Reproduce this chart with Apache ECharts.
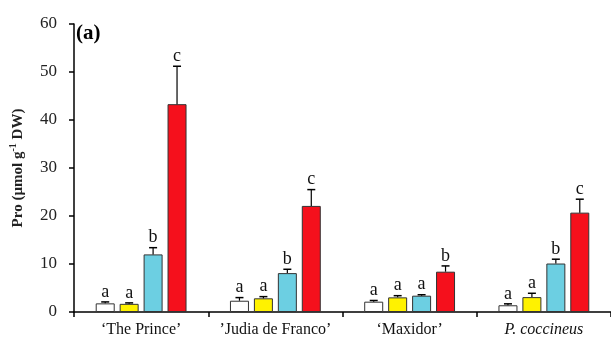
<!DOCTYPE html>
<html><head><meta charset="utf-8">
<script src="https://cdn.jsdelivr.net/npm/echarts@6/dist/echarts.min.js"></script>
<style>html,body{margin:0;padding:0;background:#fff}#c{width:611px;height:341px}</style>
</head><body><div id="c"></div>
<script>
const categories = ['\u2018The Prince\u2019', '\u2019Judia de Franco\u2019', '\u2018Maxidor\u2019', 'P. coccineus'];
const seriesNames = ['T1', 'T2', 'T3', 'T4'];
const values = [
  [1.8, 2.35, 2.15, 1.4],
  [1.7, 2.85, 3.05, 3.1],
  [12.0, 8.1, 3.4, 10.1],
  [43.3, 22.1, 8.4, 20.7]
];
const errTops = [
  [2.1, 3.0, 2.4, 1.7],
  [1.9, 3.2, 3.4, 3.9],
  [13.4, 8.9, 3.6, 11.0],
  [51.2, 25.5, 9.6, 23.5]
];
const letters = [
  ['a', 'a', 'a', 'a'],
  ['a', 'a', 'a', 'a'],
  ['b', 'b', 'a', 'b'],
  ['c', 'c', 'b', 'c']
];
const yTicks = [0, 10, 20, 30, 40, 50, 60];
const colors = ['#ffffff', '#fff200', '#6ccfe2', '#f5101c'];

const BW = 19, GAP = 0.26;
const serif = '"Liberation Serif", "Times New Roman", serif';
const chart = echarts.init(document.getElementById('c'));

const bars = values.map((v, i) => ({
  type: 'bar', name: seriesNames[i], data: v, barWidth: BW, barGap: (GAP * 100) + '%',
  itemStyle: { color: colors[i], borderColor: '#333', borderWidth: 1 },
  z: 2
}));
const errs = values.map((v, i) => ({
  type: 'custom', name: seriesNames[i] + 'err',
  data: v.map((val, j) => [j, val, errTops[i][j], letters[i][j]]),
  encode: { x: 0, y: 1 },
  z: 3,
  renderItem: function (params, api) {
    const j = api.value(0);
    const off = (i - 1.5) * BW * (1 + GAP);
    const base = api.coord([j, api.value(1)]);
    const top = api.coord([j, api.value(2)]);
    const x = base[0] + off;
    const cap = 4;
    return { type: 'group', children: [
      { type: 'line', shape: { x1: x, y1: base[1], x2: x, y2: top[1] }, style: { stroke: '#000', lineWidth: 1.2 } },
      { type: 'line', shape: { x1: x - cap, y1: top[1], x2: x + cap, y2: top[1] }, style: { stroke: '#000', lineWidth: 1.5 } },
      { type: 'text', x: x, y: top[1] - 1, style: { text: api.value(3), textAlign: 'center', textVerticalAlign: 'bottom', font: '18px ' + serif, fill: '#111' } }
    ]};
  }
}));

chart.setOption({
  animation: false,
  grid: { left: 70, top: 24, bottom: 29, width: 553 },
  xAxis: {
    type: 'category', data: categories,
    axisLine: { lineStyle: { color: '#000', width: 1.5 } },
    axisTick: { show: true, length: 5, lineStyle: { color: '#000', width: 1.5 } },
    axisLabel: {
      interval: 0, margin: 10, color: '#111', fontFamily: serif, fontSize: 16,
      formatter: function (v) { return v === 'P. coccineus' ? '{it|' + v + '}' : v; },
      rich: { it: { fontStyle: 'italic', fontFamily: serif, fontSize: 16, color: '#111' } }
    }
  },
  yAxis: {
    type: 'value', min: yTicks[0], max: yTicks[yTicks.length - 1], interval: 10,
    splitLine: { show: false },
    axisLine: { show: true, lineStyle: { color: '#000', width: 1.5 } },
    axisTick: { show: true, length: 5, lineStyle: { color: '#000', width: 1.5 } },
    axisLabel: { margin: 17, color: '#222', fontFamily: serif, fontSize: 17 },
    name: '{b|Pro (\u00b5mol g}{sup|-1}{b| DW)}',
    nameLocation: 'middle', nameGap: 48,
    nameTextStyle: {
      rich: {
        b: { fontFamily: serif, fontWeight: 'bold', fontSize: 15, color: '#222', lineHeight: 18, verticalAlign: 'bottom' },
        sup: { fontFamily: serif, fontWeight: 'bold', fontSize: 10, color: '#222', lineHeight: 18, verticalAlign: 'top' }
      }
    }
  },
  graphic: [{
    type: 'text', left: 76, top: 23,
    style: { text: '(a)', font: 'bold 21px ' + serif, fill: '#000' }
  }],
  series: bars.concat(errs)
});
</script></body></html>
